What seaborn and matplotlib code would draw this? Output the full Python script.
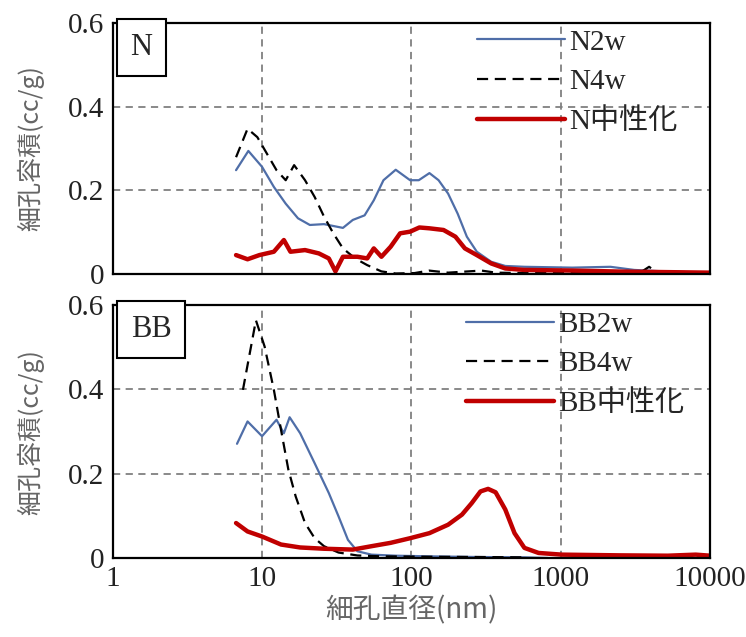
import matplotlib
matplotlib.use("Agg")
import matplotlib.pyplot as plt
import seaborn as sns
import pandas as pd

# --- data (x: pore diameter nm, y: cc/g) ---
n2w_x = [6.7, 8.1, 10, 12, 14.4, 17.4, 20.9, 26, 34.8, 40.5, 48.6, 56, 65, 78.5, 98, 112, 132, 152, 176, 204, 235, 274, 342, 425, 571, 1194, 2150, 3100, 5200, 10000]
n2w_y = [0.248, 0.294, 0.256, 0.208, 0.168, 0.133, 0.117, 0.119, 0.110, 0.129, 0.140, 0.176, 0.224, 0.249, 0.224, 0.224, 0.241, 0.224, 0.192, 0.144, 0.089, 0.053, 0.029, 0.019, 0.017, 0.015, 0.017, 0.0095, 0.0056, 0.003]

n4w_x = [6.7, 8.0, 9.3, 10.8, 12.5, 14.4, 16.4, 19.4, 22.5, 26, 30, 34.8, 42, 50.6, 63, 78.5, 105, 131, 176, 294, 367, 571, 2480, 3500, 3900, 4300, 10000]
n4w_y = [0.279, 0.347, 0.327, 0.287, 0.248, 0.224, 0.260, 0.224, 0.184, 0.137, 0.097, 0.061, 0.037, 0.021, 0.006, 0.001, 0.002, 0.008, 0.003, 0.008, 0.003, 0.002, 0.002, 0.006, 0.017, 0.006, 0.002]

nneu_x = [6.7, 8.0, 9.6, 12, 14, 15.5, 19.4, 24, 28, 31, 34.8, 43.5, 50.6, 56, 63, 72.6, 84, 98, 113, 132, 164, 197, 228, 274, 342, 425, 571, 1194, 2480, 10000]
nneu_y = [0.045, 0.035, 0.045, 0.053, 0.081, 0.053, 0.057, 0.049, 0.037, 0.006, 0.041, 0.041, 0.037, 0.061, 0.041, 0.065, 0.097, 0.101, 0.111, 0.109, 0.105, 0.089, 0.061, 0.045, 0.025, 0.013, 0.0095, 0.008, 0.0056, 0.003]

bb2w_x = [6.8, 8.0, 10, 12.5, 14, 15.3, 18, 22.5, 28, 32.5, 37.6, 43.5, 54, 78.5, 131, 274, 571, 820]
bb2w_y = [0.271, 0.324, 0.289, 0.328, 0.296, 0.334, 0.296, 0.225, 0.154, 0.099, 0.043, 0.016, 0.008, 0.0055, 0.004, 0.0024, 0.0016, 0.0]

bb4w_x = [7.45, 9.1, 10.4, 12.0, 13.4, 15, 16.8, 19.4, 22.5, 26, 32.5, 43.5, 63, 131, 274, 571]
bb4w_y = [0.399, 0.564, 0.502, 0.399, 0.304, 0.210, 0.146, 0.083, 0.047, 0.028, 0.013, 0.006, 0.004, 0.003, 0.0024, 0.0016]

bbneu_x = [6.7, 8.0, 10, 13.4, 18, 26, 40.5, 54, 72.6, 98, 132, 176, 218, 253, 290, 326, 366, 425, 490, 571, 710, 1015, 2480, 5200, 8000, 10000]
bbneu_y = [0.083, 0.063, 0.051, 0.032, 0.025, 0.022, 0.020, 0.028, 0.036, 0.047, 0.059, 0.079, 0.103, 0.130, 0.158, 0.164, 0.156, 0.115, 0.059, 0.024, 0.012, 0.008, 0.0063, 0.0055, 0.008, 0.0055]

x_ticks = [1, 10, 100, 1000, 10000]
x_tick_labels = ["1", "10", "100", "1000", "10000"]
y_ticks = [0, 0.2, 0.4, 0.6]
y_tick_labels = ["0", "0.2", "0.4", "0.6"]

panels = [
    ("N", 0.945, [("N2w", n2w_x, n2w_y), ("N4w", n4w_x, n4w_y), ("N中性化", nneu_x, nneu_y)]),
    ("BB", 0.957, [("BB2w", bb2w_x, bb2w_y), ("BB4w", bb4w_x, bb4w_y), ("BB中性化", bbneu_x, bbneu_y)]),
]

sns.set_style("white")
plt.rcParams["font.family"] = ["Liberation Serif", "Noto Sans CJK JP"]

blue = "#4f6ea8"
red = "#c00000"
styles = [dict(color=blue, lw=1.6, ls="-"),
          dict(color="black", lw=1.6, ls=(0, (5, 3))),
          dict(color=red, lw=3.2, ls="-")]

fig = plt.figure(figsize=(7.46, 6.37), dpi=100)
ax_top = fig.add_axes([0.151, 0.570, 0.801, 0.394])
ax_bot = fig.add_axes([0.151, 0.124, 0.801, 0.397])

for ax, (tag, leg_x, series) in zip([ax_top, ax_bot], panels):
    for (name, xs, ys), st in zip(series, styles):
        df = pd.DataFrame({"d": xs, "v": ys})
        sns.lineplot(data=df, x="d", y="v", ax=ax, label=name, sort=False,
                     color=st["color"], linewidth=st["lw"], linestyle=st["ls"])
    ax.set_xscale("log")
    ax.set_xlim(1, 10000)
    ax.set_ylim(0, 0.6)
    ax.set_xticks(x_ticks)
    ax.set_yticks(y_ticks)
    ax.set_yticklabels(y_tick_labels)
    ax.minorticks_off()
    ax.tick_params(length=0, labelsize=21, colors="#222222", pad=6)
    for xv in [10, 100, 1000]:
        ax.axvline(xv, color="#808080", lw=1.3, ls=(0, (4, 3)), zorder=0)
    for yv in [0.2, 0.4]:
        ax.axhline(yv, color="#808080", lw=1.3, ls=(0, (4, 3)), zorder=0)
    for sp in ax.spines.values():
        sp.set_color("black")
        sp.set_linewidth(1.6)
    ax.set_ylabel("細孔容積(cc/g)", family=["Noto Sans CJK JP"], fontsize=18,
                  color="#666666", labelpad=2)
    ax.text(0.03, 0.96, tag, transform=ax.transAxes, fontsize=22, va="top", ha="left",
            bbox=dict(boxstyle="square,pad=0.45", fc="white", ec="black", lw=1.5))
    ax.legend(loc="upper right", bbox_to_anchor=(leg_x, 0.975), frameon=False,
              fontsize=21, handlelength=3.0, handletextpad=0.15, labelspacing=0.45,
              borderaxespad=0, borderpad=0)

ax_top.set_xticklabels([])
ax_top.set_xlabel("")
ax_bot.set_xticklabels(x_tick_labels)
ax_bot.set_xlabel("細孔直径(nm)", family=["Noto Sans CJK JP"], fontsize=20,
                  color="#666666", labelpad=2)
ax_top.yaxis.set_label_coords(-0.115, 0.5)
ax_bot.yaxis.set_label_coords(-0.115, 0.5)

fig.savefig("out.png", dpi=100)
